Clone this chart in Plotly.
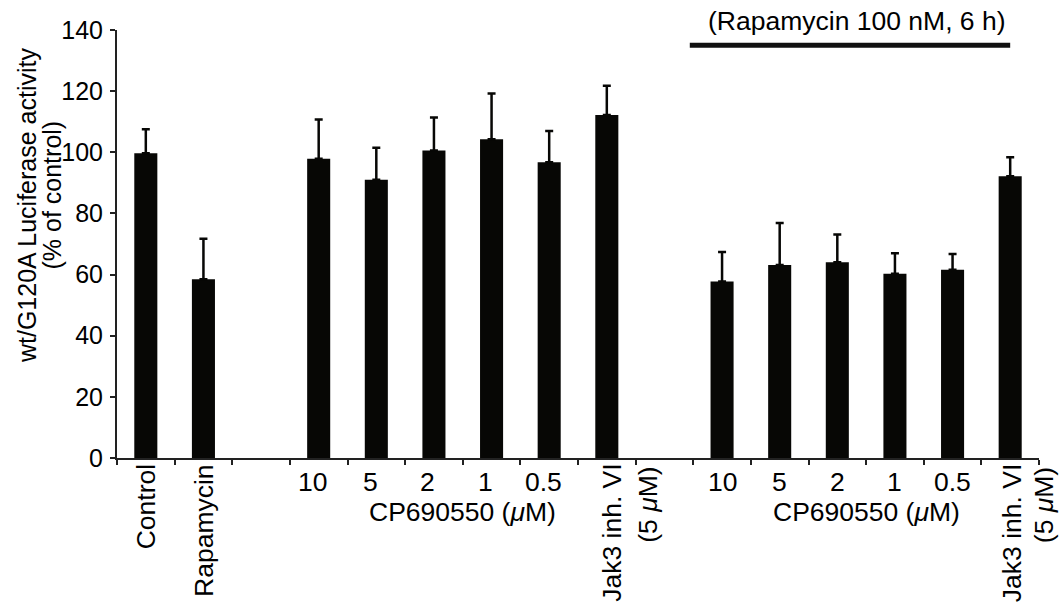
import plotly.graph_objects as go

# ---- data ----
categories = ["Control", "Rapamycin", "", "10", "5", "2", "1", "0.5", "Jak3 inh. VI (5 μM)",
              "", "10", "5", "2", "1", "0.5", "Jak3 inh. VI (5 μM)"]
values = [99.7, 58.5, None, 97.9, 91.0, 100.6, 104.3, 96.7, 112.2,
          None, 57.7, 63.1, 64.0, 60.3, 61.6, 92.2]
errors = [7.8, 13.2, None, 12.8, 10.5, 10.8, 14.9, 10.3, 9.6,
          None, 9.7, 13.8, 9.1, 6.7, 5.1, 6.2]
rotated_labels = {0: "Control", 1: "Rapamycin"}
jak_lines = ["Jak3 inh. VI", "(5 <i>μ</i>M)"]
dose_labels = ["10", "5", "2", "1", "0.5"]
group_label = "CP690550 (<i>μ</i>M)"
treatment_label = "(Rapamycin 100 nM, 6 h)"
y_title_lines = ["wt/G120A Luciferase activity", "(% of control)"]
y_ticks = [0, 20, 40, 60, 80, 100, 120, 140]

FONT = "Liberation Sans, Arial, Helvetica, sans-serif"
LBL = 26.5
xs = list(range(len(categories)))
bx = [x for x, v in zip(xs, values) if v is not None]
by = [v for v in values if v is not None]
be = [e for e in errors if e is not None]

fig = go.Figure()
fig.add_trace(go.Bar(
    x=bx, y=by, width=0.4,
    marker=dict(color="#070705", line=dict(width=0)),
    error_y=dict(type="data", array=be, arrayminus=[0] * len(be), symmetric=False,
                 color="#070705", thickness=2.5, width=4),
))

ann = []
for i, t in rotated_labels.items():
    ann.append(dict(x=i, y=0, xref="x", yref="paper", text=t, textangle=-90,
                    xanchor="center", yanchor="top", yshift=-4, showarrow=False,
                    font=dict(size=LBL, color="black", family=FONT)))
for i, shifts in ((8, (5, 41)), (15, (2, 34))):
    for line, (t, dx) in enumerate(zip(jak_lines, shifts)):
        ann.append(dict(x=i, y=0, xref="x", yref="paper", text=t, textangle=-90,
                        xanchor="center", yanchor="top", yshift=-4 - 3 * line, xshift=dx,
                        showarrow=False, font=dict(size=LBL, color="black", family=FONT)))
for start, dx in ((3, -6), (10, 0)):
    for k, t in enumerate(dose_labels):
        ann.append(dict(x=start + k, y=0, xref="x", yref="paper", text=t,
                        xanchor="center", yanchor="top", yshift=-7, xshift=dx,
                        showarrow=False, font=dict(size=LBL, color="black", family=FONT)))
    ann.append(dict(x=start + 2.5, y=0, xref="x", yref="paper", text=group_label,
                    xanchor="center", yanchor="top", yshift=-37, showarrow=False,
                    font=dict(size=LBL, color="black", family=FONT)))
ann.append(dict(x=12.35, y=135, xref="x", yref="y", text=treatment_label,
                xanchor="center", yanchor="bottom", yshift=7, showarrow=False,
                font=dict(size=LBL, color="black", family=FONT)))
ann.append(dict(x=-0.0976, y=0.591, xref="paper", yref="paper", text=y_title_lines[0],
                textangle=-90, xanchor="center", yanchor="middle", showarrow=False,
                font=dict(size=25, color="black", family=FONT)))
ann.append(dict(x=-0.0705, y=0.6157, xref="paper", yref="paper", text=y_title_lines[1],
                textangle=-90, xanchor="center", yanchor="middle", showarrow=False,
                font=dict(size=25, color="black", family=FONT)))

fig.add_shape(type="line", xref="x", yref="y", x0=9.44, x1=15.0, y0=135, y1=135,
              line=dict(color="#111", width=5))

fig.update_layout(
    width=1059, height=608,
    margin=dict(l=117, r=20, t=30, b=150, pad=0),
    plot_bgcolor="white", paper_bgcolor="white",
    showlegend=False,
    annotations=ann,
    font=dict(family=FONT, color="black"),
    xaxis=dict(range=[-0.5, 15.5], tickmode="array",
               tickvals=[i - 0.5 for i in range(len(categories) + 1)],
               showticklabels=False, ticks="outside", ticklen=5, tickwidth=2,
               tickcolor="#222", showline=True, linecolor="#222", linewidth=2,
               showgrid=False, zeroline=False),
    yaxis=dict(range=[0, 140], tickmode="array", tickvals=y_ticks,
               ticks="outside", ticklen=5, tickwidth=2, tickcolor="#222",
               showline=True, linecolor="#222", linewidth=2, showgrid=False,
               zeroline=False, ticklabelstandoff=2,
               tickfont=dict(size=25, color="black", family=FONT)),
)

fig.write_html(
    "out.html",
    config={"displayModeBar": False},
    post_script="document.body.style.margin='0';document.body.style.overflow='hidden';",
)
